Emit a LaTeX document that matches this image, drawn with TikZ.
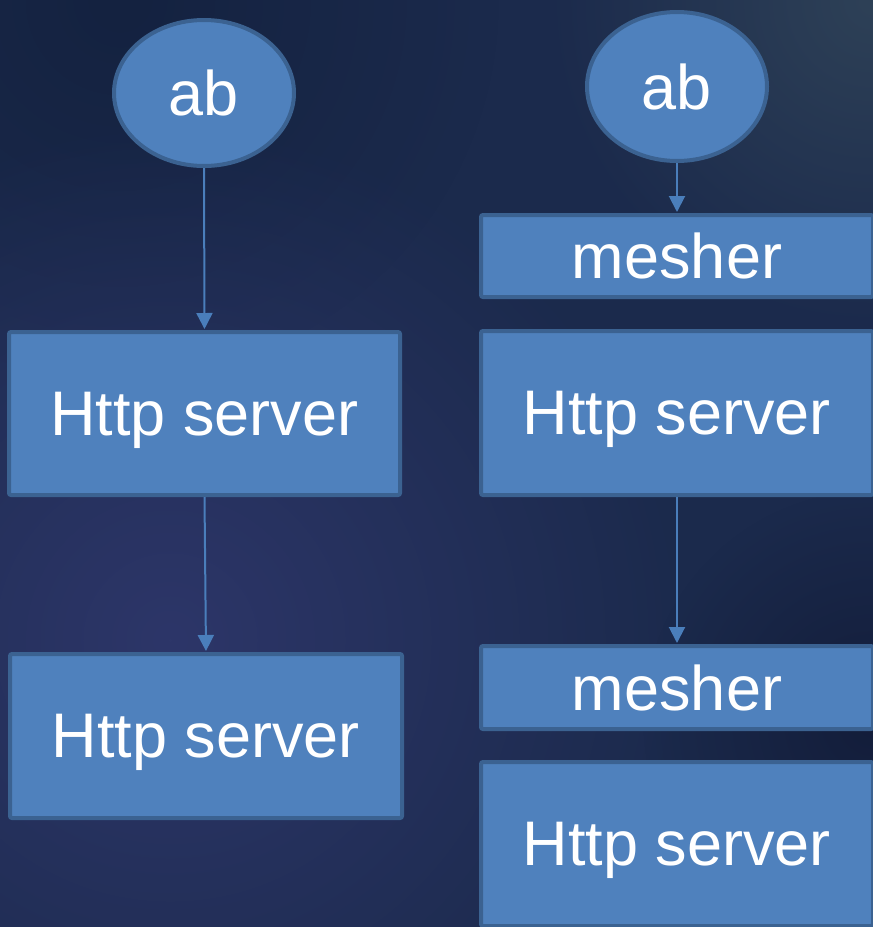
\documentclass[tikz,border=0pt]{standalone}
\usepackage{fontspec}
\setmainfont{Liberation Sans}
\usetikzlibrary{arrows.meta,shapes.geometric,fadings}
\tikzfading[name=softout, inner color=transparent!0, outer color=transparent!100]
\definecolor{bgbase}{HTML}{1B2A4C}
\definecolor{bgpurple}{HTML}{2D3669}
\definecolor{bglight}{HTML}{2E4157}
\definecolor{bgdark}{HTML}{131D3A}
\definecolor{bgtop}{HTML}{142240}
\definecolor{boxfill}{HTML}{4F81BD}
\definecolor{boxline}{HTML}{3B6291}
\definecolor{arrowc}{HTML}{4A7EBB}
\tikzset{
  blk/.style={draw=boxline, fill=boxfill, line width=4pt, rounded corners=2pt,
    inner sep=0pt, text=white, font=\fontsize{63}{75}\selectfont},
  srv/.style={blk, text depth=0pt},
  ell/.style={blk, ellipse, rounded corners=0pt},
  conn/.style={draw=arrowc, line width=2pt, -{Triangle[length=16pt,width=16pt]}, shorten >=1pt}
}
\begin{document}
\begin{tikzpicture}[x=1pt,y=-1pt]
\useasboundingbox (0,0) rectangle (873,927);
\begin{scope}
\clip (0,0) rectangle (873,927);
\fill[bgbase] (0,0) rectangle (873,927);
\fill[bgtop, path fading=softout] (120,0) circle (380);
\fill[bgpurple, path fading=softout] (170,640) circle (520);
\fill[bglight, path fading=softout] (873,0) circle (330);
\fill[bgdark, path fading=softout] (873,720) circle (230);

\node[ell, minimum width=180, minimum height=146] (a1) at (204,93) {ab};
\node[ell, minimum width=180, minimum height=149] (a2) at (677,86.5) {ab};

\node[srv, minimum width=391, minimum height=163] (l1) at (204.5,413.5) {Http server};
\node[srv, minimum width=392, minimum height=164] (l2) at (206,736) {Http server};

\node[blk, minimum width=392, minimum height=82] (m1) at (677,256) {mesher};
\node[srv, minimum width=392, minimum height=164] (r1) at (677,413) {Http server};
\node[blk, minimum width=392, minimum height=83] (m2) at (677,687.5) {mesher};
\node[srv, minimum width=392, minimum height=164] (r2) at (677,844) {Http server};

\draw[conn] (a1.south) -- (l1.north);
\draw[conn] (l1.south) -- (l2.north);
\draw[conn] (a2.south) -- (m1.north);
\draw[conn] (r1.south) -- (m2.north);
\end{scope}
\end{tikzpicture}
\end{document}
